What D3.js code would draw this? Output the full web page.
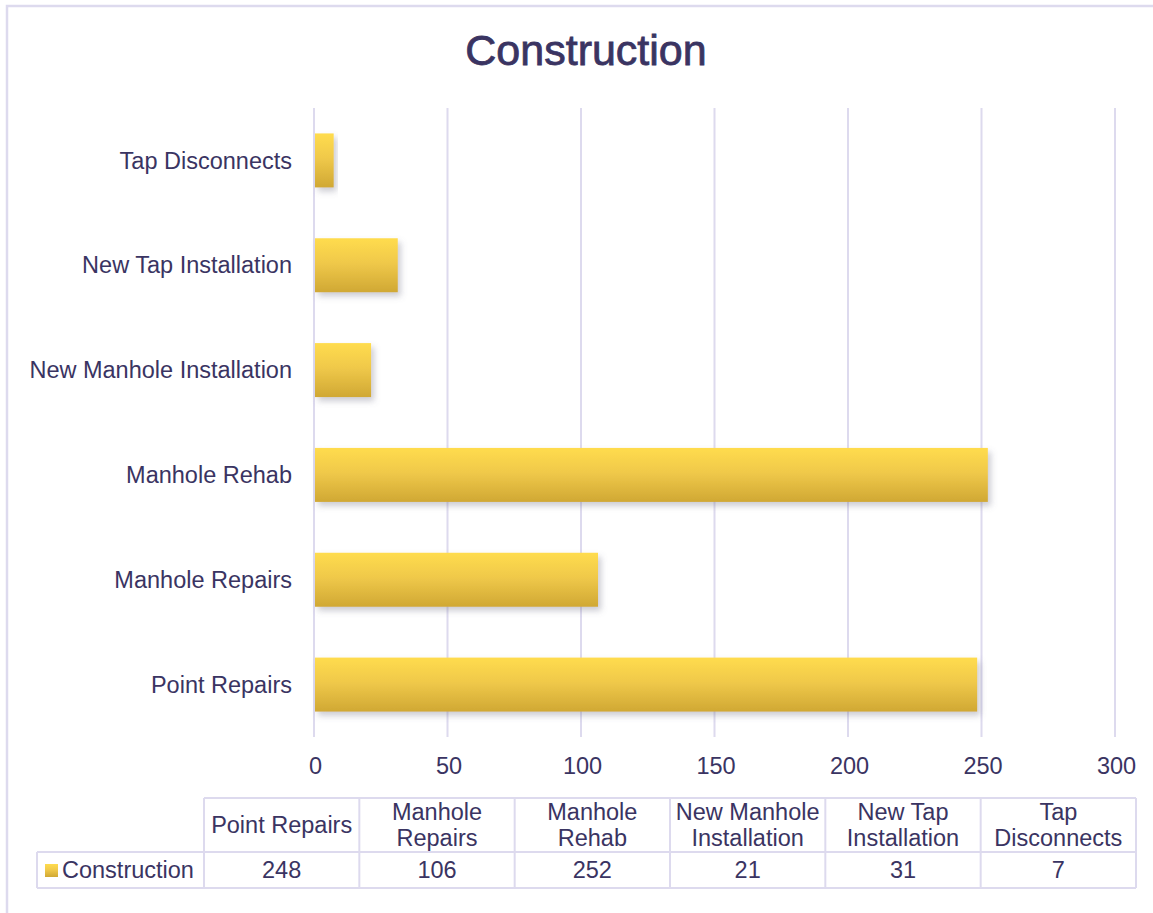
<!DOCTYPE html>
<html>
<head>
<meta charset="utf-8">
<script src="https://cdn.jsdelivr.net/npm/d3@7"></script>
<style>
  html, body { margin: 0; padding: 0; background: #ffffff; }
  svg { display: block; }
  text { font-family: "Liberation Sans", Arial, sans-serif; fill: #3a3462; }
</style>
</head>
<body>
<svg id="chart" width="1153" height="913"></svg>
<script>
// ---- data ----
const categories = ["Point Repairs", "Manhole Repairs", "Manhole Rehab", "New Manhole Installation", "New Tap Installation", "Tap Disconnects"];
const values = [248, 106, 252, 21, 31, 7];
const seriesName = "Construction";
const tickValues = [0, 50, 100, 150, 200, 250, 300];
const chartTitle = "Construction";

// ---- layout ----
const W = 1153, H = 913;
const plot = { left: 315, right: 1116, top: 108, bottom: 737 };
const textColor = "#3a3462";
const gridColor = "#dddaee";
const fontSize = 23.5;

const svg = d3.select("#chart");

const defs = svg.append("defs");
const grad = defs.append("linearGradient").attr("id", "barGrad")
  .attr("x1", 0).attr("y1", 0).attr("x2", 0).attr("y2", 1);
grad.append("stop").attr("offset", "0%").attr("stop-color", "#ffdc4e");
grad.append("stop").attr("offset", "45%").attr("stop-color", "#f0c94a");
grad.append("stop").attr("offset", "100%").attr("stop-color", "#d0a834");

const filt = defs.append("filter").attr("id", "shadow")
  .attr("x", "-10%").attr("y", "-20%").attr("width", "130%").attr("height", "160%");
filt.append("feDropShadow").attr("dx", 3).attr("dy", 4).attr("stdDeviation", 3)
  .attr("flood-color", "#6a6a80").attr("flood-opacity", 0.35);

// outer frame (left and top edges)
svg.append("path")
  .attr("d", `M7,${H} L7,6 L${W},6`)
  .attr("fill", "none").attr("stroke", gridColor).attr("stroke-width", 2.5);

// title
svg.append("text")
  .attr("x", 586).attr("y", 65)
  .attr("text-anchor", "middle")
  .attr("font-size", 43)
  .attr("stroke", textColor).attr("stroke-width", 0.8)
  .text(chartTitle);

// scales
const x = d3.scaleLinear().domain([0, 300]).range([plot.left, plot.right]);
const y = d3.scaleBand()
  .domain(categories.slice().reverse())
  .range([plot.top, plot.bottom])
  .paddingInner(0.485).paddingOuter(0.2425);

// gridlines
svg.append("g").selectAll("line").data(tickValues).join("line")
  .attr("x1", d => x(d) - 1).attr("x2", d => x(d) - 1)
  .attr("y1", plot.top).attr("y2", plot.bottom)
  .attr("stroke", gridColor).attr("stroke-width", 2);

// x tick labels via axis
const xAxis = d3.axisBottom(x).tickValues(tickValues).tickSize(0).tickPadding(0);
const xg = svg.append("g").attr("transform", `translate(0, 774)`).call(xAxis);
xg.select(".domain").remove();
xg.selectAll("text").attr("font-size", fontSize).attr("fill", textColor)
  .attr("dy", 0).style("font-family", '"Liberation Sans", Arial, sans-serif');

// y labels via axis
const yAxis = d3.axisLeft(y).tickSize(0).tickPadding(0);
const yg = svg.append("g").attr("transform", `translate(292,0)`).call(yAxis);
yg.select(".domain").remove();
yg.selectAll("text").attr("font-size", fontSize).attr("fill", textColor)
  .attr("dy", "0.35em").style("font-family", '"Liberation Sans", Arial, sans-serif');

// bars
svg.append("g").selectAll("rect").data(categories).join("rect")
  .attr("x", x(0))
  .attr("y", d => y(d))
  .attr("width", (d, i) => x(values[i]) - x(0))
  .attr("height", y.bandwidth())
  .attr("fill", "url(#barGrad)")
  .attr("filter", "url(#shadow)");

// ---- data table ----
const tbl = { left: 204, right: 1136, top: 798, mid: 852, bottom: 888, legendLeft: 37 };
const col = d3.scaleBand().domain(categories).range([tbl.left, tbl.right]);
const tg = svg.append("g");

// borders
const hLines = [
  [tbl.left, tbl.right, tbl.top],
  [tbl.legendLeft, tbl.right, tbl.mid],
  [tbl.legendLeft, tbl.right, tbl.bottom]
];
tg.selectAll("line.h").data(hLines).join("line").attr("class", "h")
  .attr("x1", d => d[0]).attr("x2", d => d[1]).attr("y1", d => d[2]).attr("y2", d => d[2])
  .attr("stroke", gridColor).attr("stroke-width", 2);
const vPos = categories.map(c => col(c)).concat([tbl.right]);
tg.selectAll("line.v").data(vPos).join("line").attr("class", "v")
  .attr("x1", d => d).attr("x2", d => d).attr("y1", tbl.top).attr("y2", tbl.bottom)
  .attr("stroke", gridColor).attr("stroke-width", 2);
tg.append("line").attr("x1", tbl.legendLeft).attr("x2", tbl.legendLeft)
  .attr("y1", tbl.mid).attr("y2", tbl.bottom)
  .attr("stroke", gridColor).attr("stroke-width", 2);

// header cells with wrapping
categories.forEach(c => {
  const cx = col(c) + col.bandwidth() / 2;
  const maxW = col.bandwidth() - 4;
  const words = c.split(" ");
  const lines = [];
  let cur = "";
  const probe = tg.append("text").attr("font-size", fontSize);
  words.forEach(w => {
    const test = cur ? cur + " " + w : w;
    probe.text(test);
    if (probe.node().getComputedTextLength() > maxW && cur) {
      lines.push(cur); cur = w;
    } else cur = test;
  });
  lines.push(cur);
  probe.remove();
  const lh = 26;
  const cy = (tbl.top + tbl.mid) / 2;
  const t = tg.append("text").attr("font-size", fontSize).attr("text-anchor", "middle");
  lines.forEach((l, i) => {
    t.append("tspan").attr("x", cx)
      .attr("y", cy + (i - (lines.length - 1) / 2) * lh)
      .attr("dy", "0.35em").text(l);
  });
});

// values
tg.selectAll("text.val").data(categories).join("text").attr("class", "val")
  .attr("x", d => col(d) + col.bandwidth() / 2)
  .attr("y", (tbl.mid + tbl.bottom) / 2).attr("dy", "0.35em")
  .attr("text-anchor", "middle").attr("font-size", fontSize)
  .text((d, i) => values[i]);

// legend key
tg.append("rect").attr("x", 45).attr("y", 864).attr("width", 13).attr("height", 13)
  .attr("fill", "url(#barGrad)");
tg.append("text").attr("x", 62).attr("y", (tbl.mid + tbl.bottom) / 2).attr("dy", "0.35em")
  .attr("font-size", fontSize).text(seriesName);
</script>
</body>
</html>
